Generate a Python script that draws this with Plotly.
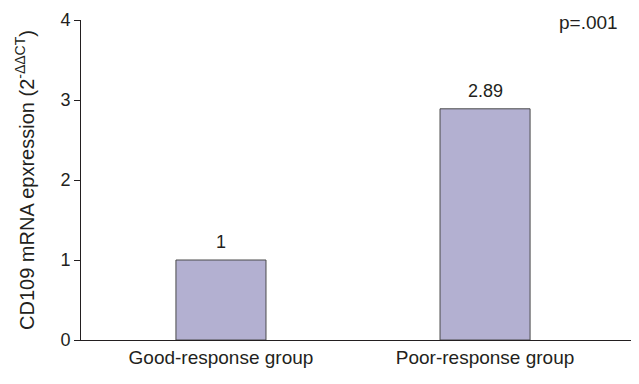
import plotly.graph_objects as go

categories = ["Good-response group", "Poor-response group"]
values = [1, 2.89]
value_labels = ["1", "2.89"]
y_ticks = [0, 1, 2, 3, 4]
p_text = "p=.001"

font_family = "Liberation Sans, Arial, Helvetica, sans-serif"
text_color = "#231f20"

# the page body has an 8px margin; compensate so the plot lands where the reference has it
fig = go.Figure()
fig.add_trace(go.Bar(
    x=categories,
    y=values,
    width=0.341,
    marker=dict(color="#b3b0d1", line=dict(color="#4a4a4a", width=1)),
))

annotations = [
    dict(text=lbl, x=c, y=v, xref="x", yref="y", xanchor="center", yanchor="bottom",
         yshift=6, showarrow=False, font=dict(size=18, color=text_color))
    for c, v, lbl in zip(categories, values, value_labels)
]
annotations.append(dict(
    text=p_text, x=1, y=1, xref="paper", yref="paper",
    xanchor="right", yanchor="middle", xshift=-19, yshift=-2,
    showarrow=False, font=dict(size=19, color=text_color),
))

fig.update_layout(
    width=639, height=384,
    margin=dict(l=73, r=8, t=12, b=52),
    paper_bgcolor="white", plot_bgcolor="white",
    showlegend=False,
    font=dict(family=font_family, color=text_color),
    xaxis=dict(
        range=[-0.53, 1.583],
        showline=True, linecolor="#231f20", linewidth=1,
        ticks="", showgrid=False, zeroline=False,
        tickfont=dict(size=19, color=text_color),
        automargin=False,
        fixedrange=True,
    ),
    yaxis=dict(
        range=[0, 4], tickvals=y_ticks,
        showline=True, linecolor="#231f20", linewidth=1,
        ticks="outside", ticklen=6, tickcolor="#231f20",
        showgrid=False, zeroline=False,
        tickfont=dict(size=18, color=text_color),
        title=dict(text="CD109 mRNA epxression (2<sup>-ΔΔCT</sup>)",
                   font=dict(size=20, color=text_color), standoff=20),
        automargin=False,
        fixedrange=True,
    ),
    annotations=annotations,
)

fig.write_html("out.html")
